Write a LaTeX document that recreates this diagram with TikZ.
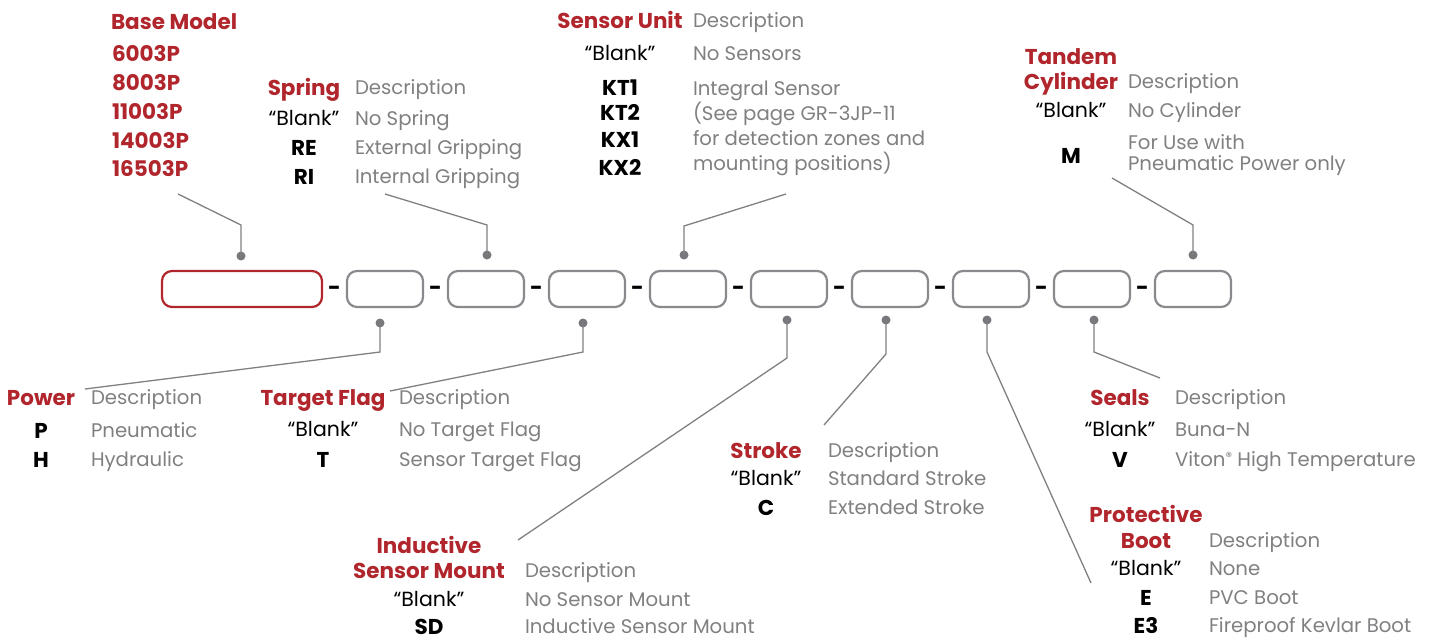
\documentclass[tikz,border=0pt]{standalone}
\usepackage{fontspec}
\setmainfont{Poppins}
\definecolor{brandred}{RGB}{176,38,44}
\definecolor{txtgray}{RGB}{128,128,131}
\definecolor{linegray}{RGB}{128,128,131}
\definecolor{boxgray}{RGB}{138,138,142}
\definecolor{dotgray}{RGB}{120,120,124}
\begin{document}
\begin{tikzpicture}[x=1pt,y=-1pt,
  every node/.style={inner sep=0pt,outer sep=0pt},
  fieldbox/.style={draw=boxgray,line width=2.2pt,rounded corners=10pt,minimum width=76pt,minimum height=36pt},
  basebox/.style={fieldbox,draw=brandred,minimum width=160pt},
  dotmark/.style={circle,fill=dotgray,minimum size=9pt},
  leader/.style={draw=linegray,line width=1.3pt},
  sepmark/.style={font=\fontsize{22}{24}\selectfont\bfseries,text=black,anchor=mid,yshift=-4pt},
  head/.style={font=\fontsize{21.5}{24}\selectfont\bfseries,text=brandred,anchor=mid,yshift=-5.5pt},
  code/.style={font=\fontsize{21.5}{24}\selectfont\bfseries,text=black,anchor=mid,yshift=-5.5pt},
  blank/.style={font=\fontsize{20.5}{24}\selectfont,text=black,anchor=mid,yshift=-5pt},
  desc/.style={font=\fontsize{19.7}{24}\selectfont,text=txtgray,anchor=mid west,yshift=-5pt}
]
\useasboundingbox (0,0) rectangle (1433,640);

% boxes
\node[basebox] (b0) at (242,289) {};
\foreach \i/\x in {1/385,2/486,3/587,4/688,5/789,6/890,7/991,8/1092,9/1193}
  \node[fieldbox] (b\i) at (\x,289) {};
\foreach \i/\x in {1/334.5,2/435.5,3/536.5,4/637.5,5/738.5,6/839.5,7/940.5,8/1041.5,9/1142.5}
  \node[sepmark] (s\i) at (\x,289) {-};

% dots
\node[dotmark] (d0) at (241,256) {};
\node[dotmark] (d2) at (487,255) {};
\node[dotmark] (d4) at (684,255) {};
\node[dotmark] (d9) at (1193,255) {};
\node[dotmark] (d1) at (380,323) {};
\node[dotmark] (d3) at (583,323) {};
\node[dotmark] (d5) at (787,320) {};
\node[dotmark] (d6) at (886,320) {};
\node[dotmark] (d7) at (987,320) {};
\node[dotmark] (d8) at (1094,320) {};

% leader ends
\coordinate (e0) at (178,194);
\coordinate (e2) at (385,194);
\coordinate (e4) at (786,194);
\coordinate (e9) at (1112,178);
\coordinate (e1) at (85,389);
\coordinate (e3) at (390,391);
\coordinate (e5) at (518,540);
\coordinate (e6) at (824,425);
\coordinate (e7) at (1091,583);
\coordinate (e8) at (1160,378);

\draw[leader] (d0.center) -- (241,225) -- (e0);
\draw[leader] (d2.center) -- (487,225) -- (e2);
\draw[leader] (d4.center) -- (684,226) -- (e4);
\draw[leader] (d9.center) -- (1193,225) -- (e9);
\draw[leader] (d1.center) -- (380,352) -- (e1);
\draw[leader] (d3.center) -- (583,352) -- (e3);
\draw[leader] (d5.center) -- (787,358) -- (e5);
\draw[leader] (d6.center) -- (886,354) -- (e6);
\draw[leader] (d7.center) -- (987,352) -- (e7);
\draw[leader] (d8.center) -- (1094,352) -- (e8);

% Base Model
\node[head,anchor=mid west] (bmh) at (111,21) {Base Model};
\node[head,anchor=mid west] (bm1) at (112,53) {6003P};
\node[head,anchor=mid west] (bm2) at (112,82) {8003P};
\node[head,anchor=mid west] (bm3) at (112,111) {11003P};
\node[head,anchor=mid west] (bm4) at (112,140) {14003P};
\node[head,anchor=mid west] (bm5) at (112,168) {16503P};

% Spring
\node[head] (sph) at (304,87) {Spring};
\node[desc] (spd) at (355,87) {Description};
\node[blank] (spb) at (304,118) {“Blank”};
\node[desc] (spbd) at (355,118) {No Spring};
\node[code] (spre) at (304,147) {RE};
\node[desc] (spred) at (355,147) {External Gripping};
\node[code] (spri) at (304,176) {RI};
\node[desc] (sprid) at (355,176) {Internal Gripping};

% Sensor Unit
\node[head] (suh) at (620,20) {Sensor Unit};
\node[desc] (sud) at (693,20) {Description};
\node[blank] (sub) at (620,53) {“Blank”};
\node[desc] (subd) at (693,53) {No Sensors};
\node[code] (sk1) at (620,87) {KT1};
\node[code] (sk2) at (620,112) {KT2};
\node[code] (sk3) at (620,139) {KX1};
\node[code] (sk4) at (620,167) {KX2};
\node[desc] (skd1) at (693,88) {Integral Sensor};
\node[desc] (skd2) at (693,113) {(See page GR-3JP-11};
\node[desc] (skd3) at (693,138) {for detection zones and};
\node[desc] (skd4) at (693,163) {mounting positions)};

% Tandem Cylinder
\node[head] (tch1) at (1071,56) {Tandem};
\node[head] (tch2) at (1071,81) {Cylinder};
\node[desc] (tcd) at (1128,81) {Description};
\node[blank] (tcb) at (1071,110) {“Blank”};
\node[desc] (tcbd) at (1128,110) {No Cylinder};
\node[code] (tcm) at (1071,155) {M};
\node[desc] (tcmd1) at (1128,142) {For Use with};
\node[desc] (tcmd2) at (1128,163) {Pneumatic Power only};

% Power
\node[head] (pwh) at (41,397) {Power};
\node[desc] (pwd) at (91,397) {Description};
\node[code] (pwp) at (41,430) {P};
\node[desc] (pwpd) at (91,430) {Pneumatic};
\node[code] (pwh2) at (41,459) {H};
\node[desc] (pwhd) at (91,459) {Hydraulic};

% Target Flag
\node[head] (tfh) at (323,397) {Target Flag};
\node[desc] (tfd) at (399,397) {Description};
\node[blank] (tfb) at (323,429) {“Blank”};
\node[desc] (tfbd) at (399,429) {No Target Flag};
\node[code] (tft) at (323,459) {T};
\node[desc] (tftd) at (399,459) {Sensor Target Flag};

% Inductive Sensor Mount
\node[head] (ish1) at (429,545) {Inductive};
\node[head] (ish2) at (429,570) {Sensor Mount};
\node[desc] (isd) at (525,570) {Description};
\node[blank] (isb) at (429,599) {“Blank”};
\node[desc] (isbd) at (525,599) {No Sensor Mount};
\node[code] (issd) at (429,626) {SD};
\node[desc] (issdd) at (525,626) {Inductive Sensor Mount};

% Stroke
\node[head] (sth) at (766,450) {Stroke};
\node[desc] (std) at (828,450) {Description};
\node[blank] (stb) at (766,478) {“Blank”};
\node[desc] (stbd) at (828,478) {Standard Stroke};
\node[code] (stc) at (766,507) {C};
\node[desc] (stcd) at (828,507) {Extended Stroke};

% Seals
\node[head] (seh) at (1120,397) {Seals};
\node[desc] (sed) at (1175,397) {Description};
\node[blank] (seb) at (1120,429) {“Blank”};
\node[desc] (sebd) at (1175,429) {Buna-N};
\node[code] (sev) at (1120,459) {V};
\node[desc] (sevd) at (1175,459) {Viton{\fontsize{13}{14}\selectfont\raisebox{5pt}{®}} High Temperature};

% Protective Boot
\node[head] (pbh1) at (1146,514) {Protective};
\node[head] (pbh2) at (1146,540) {Boot};
\node[desc] (pbd) at (1209,540) {Description};
\node[blank] (pbb) at (1146,568) {“Blank”};
\node[desc] (pbbd) at (1209,568) {None};
\node[code] (pbe) at (1146,597) {E};
\node[desc] (pbed) at (1209,597) {PVC Boot};
\node[code] (pbe3) at (1146,625) {E3};
\node[desc] (pbe3d) at (1209,625) {Fireproof Kevlar Boot};
\end{tikzpicture}
\end{document}
